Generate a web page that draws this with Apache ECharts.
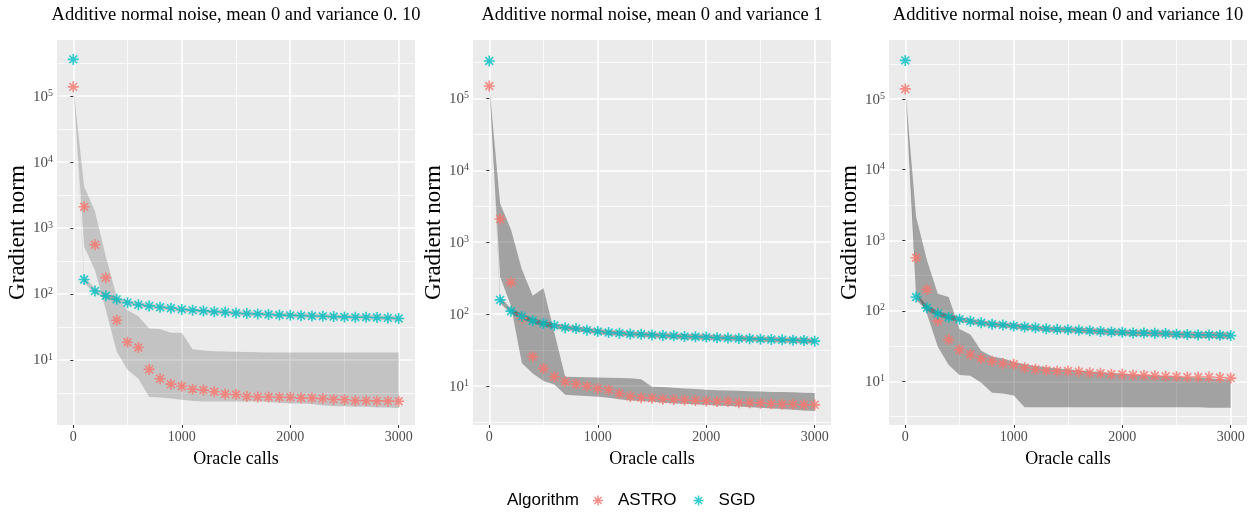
<!DOCTYPE html>
<html>
<head>
<meta charset="utf-8">
<script src="https://cdn.jsdelivr.net/npm/echarts@6/dist/echarts.min.js"></script>
<style>
  html, body { margin: 0; padding: 0; background: #ffffff; }
  #chart { width: 1255px; height: 518px; }
</style>
</head>
<body>
<div id="chart"></div>
<script>
// ---------- data ----------
const oracleCalls = [0, 100, 200, 300, 400, 500, 600, 700, 800, 900, 1000, 1100, 1200, 1300, 1400, 1500,
  1600, 1700, 1800, 1900, 2000, 2100, 2200, 2300, 2400, 2500, 2600, 2700, 2800, 2900, 3000];

const panelTitles = [
  'Additive normal noise, mean 0 and variance 0. 10',
  'Additive normal noise, mean 0 and variance 1',
  'Additive normal noise, mean 0 and variance 10'
];
const xTickValues = [0, 1000, 2000, 3000];
const xMinorValues = [500, 1500, 2500];
const yTickExponents = [1, 2, 3, 4, 5];
const yMinorExponents = [0.5, 1.5, 2.5, 3.5, 4.5, 5.5];

// variance 0.10
const astro1 = [138000, 2100, 560, 177, 40, 18.6, 15.5, 7.2, 5.2, 4.3, 4.0, 3.6, 3.5, 3.3, 3.05, 3.0,
  2.8, 2.75, 2.75, 2.73, 2.72, 2.65, 2.65, 2.6, 2.53, 2.5, 2.42, 2.42, 2.4, 2.38, 2.37];
const astroHi1 = [138000, 4300, 1800, 370, 91, 57, 46, 30, 29.5, 26, 26, 14.5, 13.9, 13.6, 13.4, 13.3,
  13.2, 13.1, 13.0, 13.0, 13.0, 13.0, 13.0, 13.0, 13.0, 13.0, 13.0, 13.0, 13.0, 13.0, 13.0];
const astroLo1 = [138000, 525, 230, 58, 13.5, 7.1, 5.2, 2.75, 2.7, 2.6, 2.5, 2.4, 2.35, 2.35, 2.35, 2.35,
  2.35, 2.35, 2.3, 2.25, 2.2, 2.2, 2.15, 2.05, 2.0, 2.0, 1.95, 1.95, 1.9, 1.9, 1.86];
const sgd1 = [360000, 166, 111, 94, 83, 74, 69, 66, 63, 61, 58.5, 57, 55.5, 54, 53, 51.5,
  50.5, 50, 49, 48, 47.5, 47, 46.5, 46, 45.5, 45, 44.5, 44.5, 44, 43.5, 42.5];
const sgdHi1 = [360000, 185, 122, 102, 90, 80, 74.5, 71, 68, 65.5, 63, 61, 59.5, 58, 57, 55.5,
  54.5, 54, 53, 52, 51.5, 51, 50.5, 50, 49, 48.5, 48, 48, 47.5, 47, 46];
const sgdLo1 = [360000, 150, 101, 86, 77, 69, 64, 61, 58.5, 56.5, 54, 53, 51.5, 50, 49, 47.5,
  46.5, 46, 45.5, 44.5, 44, 43.5, 43, 42.5, 42, 41.5, 41, 41, 40.5, 40, 39.5];

// variance 1
const astro2 = [148000, 2100, 275, 88, 25.7, 17.6, 13.5, 11.5, 10.7, 10.0, 9.3, 8.9, 7.9, 7.2, 6.9, 6.8,
  6.6, 6.5, 6.4, 6.3, 6.2, 6.1, 6.1, 5.9, 5.9, 5.8, 5.7, 5.6, 5.6, 5.5, 5.5];
const astroHi2 = [148000, 3450, 1500, 420, 180, 230, 55, 13.5, 13.4, 13.3, 13.2, 13.1, 13.0, 12.9, 12.5, 9.8,
  9.7, 9.5, 9.3, 9.1, 8.9, 8.8, 8.7, 8.6, 8.5, 8.4, 8.3, 8.3, 8.2, 8.1, 8.0];
const astroLo2 = [148000, 330, 130, 21, 15, 11.8, 10.5, 7.6, 7.4, 7.3, 7.1, 6.9, 6.6, 6.3, 6.2, 6.1,
  5.9, 5.8, 5.7, 5.6, 5.5, 5.4, 5.3, 5.2, 5.1, 5.0, 4.9, 4.8, 4.7, 4.6, 4.5];
const sgd2 = [330000, 158, 110, 93, 81, 74, 69.5, 65, 63, 60, 57.5, 55.5, 54.5, 53, 52.5, 51.5,
  50.5, 50, 49, 48.5, 48, 47, 46.5, 46, 45.5, 45, 44.5, 44, 43.5, 43, 42.2];
const sgdHi2 = [330000, 175, 120, 101, 88, 80, 75, 70.5, 68, 65, 62, 60, 59, 57.5, 56.5, 55.5,
  54.5, 54, 53, 52.5, 52, 51, 50.5, 50, 49, 48.5, 48, 47.5, 47, 46.5, 45.5];
const sgdLo2 = [330000, 143, 101, 86, 75, 68, 64, 60, 58, 55.5, 53, 51, 50, 49, 48.5, 47.5,
  46.5, 46, 45, 44.5, 44, 43.5, 43, 42.5, 42, 41.5, 41, 40.5, 40, 39.5, 39];

// variance 10
const astro3 = [140000, 565, 200, 72, 39, 28, 24, 21, 19.2, 17.8, 17.4, 15.6, 14.8, 14.3, 14.0, 14.0,
  13.7, 13.2, 13.0, 12.6, 12.6, 12.3, 12.2, 12.0, 11.8, 11.7, 11.5, 11.5, 11.5, 11.3, 11.1];
const astroHi3 = [140000, 2150, 520, 175, 157, 55, 46, 27, 22.5, 21, 19, 17.5, 16.5, 15.8, 15.2, 14.8,
  14.3, 13.9, 13.5, 13.1, 12.8, 12.5, 12.2, 12.0, 11.8, 11.6, 11.4, 11.2, 11.0, 10.8, 10.6];
const astroLo3 = [140000, 180, 90, 31, 17, 12.3, 12.0, 9.5, 6.9, 6.7, 6.3, 4.3, 4.3, 4.3, 4.3, 4.3,
  4.3, 4.3, 4.3, 4.3, 4.3, 4.3, 4.3, 4.3, 4.3, 4.3, 4.3, 4.3, 4.2, 4.2, 4.2];
const sgd3 = [355000, 157, 110, 91, 81, 76, 71, 67.5, 64.5, 63, 61, 59, 57.5, 55.5, 54.5, 54,
  53, 52, 51, 50, 49.5, 48.5, 48.5, 48, 47.5, 46.5, 46, 45.5, 45.5, 45, 44.5];
const sgdHi3 = [355000, 175, 120, 99, 88, 82, 77, 73, 70, 68, 66, 64, 62, 60, 59, 58.5,
  57.5, 56.5, 55.5, 54.5, 54, 53, 53, 52.5, 52, 51, 50.5, 50, 50, 49.5, 49];
const sgdLo3 = [355000, 142, 100, 84, 75, 70, 65.5, 62, 59.5, 58, 56, 54, 53, 51, 50, 49.5,
  48.5, 47.5, 46.5, 45.5, 45, 44, 44, 43.5, 43, 42, 41.5, 41, 41, 40.5, 40];

// ---------- layout / style ----------
const panels = [
  { astro: astro1, aLo: astroLo1, aHi: astroHi1, sgd: sgd1, sLo: sgdLo1, sHi: sgdHi1,
    left: 57, yMin: 0.015, yMax: 5.85, band: 'rgba(0,0,0,0.17)' },
  { astro: astro2, aLo: astroLo2, aHi: astroHi2, sgd: sgd2, sLo: sgdLo2, sHi: sgdHi2,
    left: 473, yMin: 0.46, yMax: 5.81, band: 'rgba(0,0,0,0.31)' },
  { astro: astro3, aLo: astroLo3, aHi: astroHi3, sgd: sgd3, sLo: sgdLo3, sHi: sgdHi3,
    left: 889, yMin: 0.38, yMax: 5.84, band: 'rgba(0,0,0,0.31)' }
];
const PANEL_W = 358, PANEL_TOP = 40, PANEL_H = 385;
const ASTRO_COLOR = '#F8766D', SGD_COLOR = '#00BFC4';
const SERIF = '"Liberation Serif", "DejaVu Serif", serif';
const SANS = '"Liberation Sans", Arial, sans-serif';
const ASTERISK = 'path://M42.5 0H57.5V100H42.5Z M0 42.5H100V57.5H0Z ' +
  'M19.9 9.3L90.7 80.1L80.1 90.7L9.3 19.9Z M80.1 9.3L90.7 19.9L19.9 90.7L9.3 80.1Z';

const L = v => Math.log10(v);

const grid = [], xAxis = [], yAxis = [], series = [], title = [];

// ribbon polygon built from the series' own data through the axes (api.coord)
const ribbonRenderer = color => (params, api) => {
  if (params.dataIndexInside !== 0) return null;
  const n = params.dataInsideLength;
  const upper = [], lower = [];
  for (let k = 0; k < n; k++) {
    const x = api.value(0, k);
    upper.push(api.coord([x, api.value(2, k)]));
    lower.push(api.coord([x, api.value(1, k)]));
  }
  return { type: 'polygon', silent: true,
    shape: { points: upper.concat(lower.reverse()) },
    style: { fill: color, stroke: null } };
};

panels.forEach((p, i) => {
  grid.push({ left: p.left, top: PANEL_TOP, width: PANEL_W, height: PANEL_H,
    show: true, backgroundColor: '#EBEBEB', borderWidth: 0 });

  title.push({ text: panelTitles[i], left: p.left + PANEL_W / 2, top: 6, padding: 0,
    textAlign: 'center',
    textStyle: { fontFamily: SERIF, fontSize: 18.5, fontWeight: 'normal', color: '#000' } });

  xAxis.push({ type: 'value', gridIndex: i, min: -150, max: 3150, position: 'bottom',
    name: 'Oracle calls', nameLocation: 'middle', nameGap: 25,
    nameTextStyle: { fontFamily: SERIF, fontSize: 18, color: '#000' },
    axisLine: { show: false },
    axisTick: { show: true, length: 3, customValues: xTickValues, lineStyle: { color: '#333', width: 1 } },
    axisLabel: { show: true, customValues: xTickValues, margin: 5, formatter: v => String(v),
      fontFamily: SERIF, fontSize: 14, color: '#4D4D4D' },
    splitLine: { show: true, lineStyle: { color: '#FFFFFF', width: 1.6 } } });
  xAxis.push({ type: 'value', gridIndex: i, min: -150, max: 3150, position: 'top',
    axisLine: { show: false },
    axisTick: { show: false, customValues: xMinorValues },
    axisLabel: { show: false, customValues: xMinorValues },
    splitLine: { show: true, lineStyle: { color: '#FFFFFF', width: 0.8 } } });

  yAxis.push({ type: 'value', gridIndex: i, min: p.yMin, max: p.yMax, position: 'left',
    name: 'Gradient norm', nameLocation: 'middle', nameGap: 25,
    nameTextStyle: { fontFamily: SERIF, fontSize: 23, color: '#000' },
    axisLine: { show: false },
    axisTick: { show: true, length: 3, customValues: yTickExponents, lineStyle: { color: '#333', width: 1 } },
    axisLabel: { show: true, customValues: yTickExponents, margin: 4,
      formatter: v => '{b|10}{s|' + Math.round(v) + '}',
      rich: {
        b: { fontFamily: SERIF, fontSize: 15, color: '#4D4D4D', lineHeight: 16, padding: [4, 0, 0, 0], verticalAlign: 'bottom' },
        s: { fontFamily: SERIF, fontSize: 10, color: '#4D4D4D', lineHeight: 10, verticalAlign: 'top' }
      } },
    splitLine: { show: true, lineStyle: { color: '#FFFFFF', width: 1.6 } } });
  yAxis.push({ type: 'value', gridIndex: i, min: p.yMin, max: p.yMax, position: 'right',
    axisLine: { show: false },
    axisTick: { show: false, customValues: yMinorExponents },
    axisLabel: { show: false, customValues: yMinorExponents },
    splitLine: { show: true, lineStyle: { color: '#FFFFFF', width: 0.8 } } });

  const xi = 2 * i, yi = 2 * i;
  const ribbon = (lo, hi, color) => {
    series.push({ type: 'custom', xAxisIndex: xi, yAxisIndex: yi, silent: true, z: 1,
      renderItem: ribbonRenderer(color),
      encode: { x: 0, y: [1, 2] },
      data: oracleCalls.map((x, k) => [x, L(lo[k]), L(hi[k])]) });
  };
  ribbon(p.aLo, p.aHi, p.band);
  ribbon(p.sLo, p.sHi, p.band);

  series.push({ name: 'ASTRO', type: 'scatter', xAxisIndex: xi, yAxisIndex: yi,
    symbol: ASTERISK, symbolSize: 11, itemStyle: { color: ASTRO_COLOR }, z: 3,
    data: oracleCalls.map((x, k) => [x, L(p.astro[k])]) });
  series.push({ name: 'SGD', type: 'scatter', xAxisIndex: xi, yAxisIndex: yi,
    symbol: ASTERISK, symbolSize: 11, itemStyle: { color: SGD_COLOR }, z: 4,
    data: oracleCalls.map((x, k) => [x, L(p.sgd[k])]) });
});

title.push({ text: 'Algorithm', left: 507, top: 492, padding: 0,
  textStyle: { fontFamily: SANS, fontSize: 17, fontWeight: 'normal', color: '#000' } });

const option = {
  animation: false,
  backgroundColor: '#FFFFFF',
  title: title,
  grid: grid,
  xAxis: xAxis,
  yAxis: yAxis,
  legend: {
    data: ['ASTRO', 'SGD'],
    left: 593, top: 492, padding: 0,
    itemWidth: 10, itemHeight: 10, itemGap: 17,
    selectedMode: false,
    textStyle: { fontFamily: SANS, fontSize: 17, color: '#000', padding: [0, 0, 0, 10] }
  },
  series: series
};

const chart = echarts.init(document.getElementById('chart'), null, { renderer: 'canvas' });
chart.setOption(option);
</script>
</body>
</html>
